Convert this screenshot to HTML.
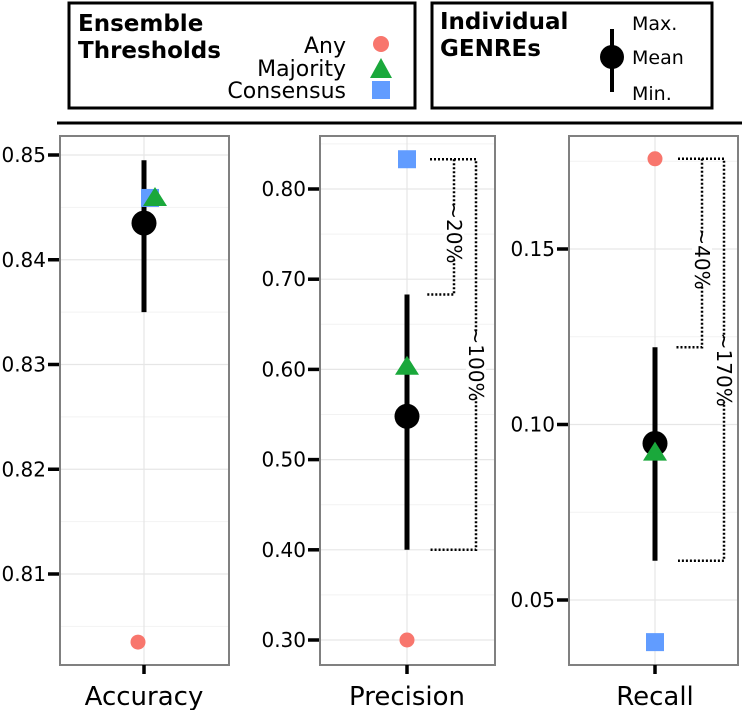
<!DOCTYPE html>
<html><head><meta charset="utf-8"><style>
html,body{margin:0;padding:0;background:#fff;}
svg{display:block;font-family:"DejaVu Sans","Liberation Sans",sans-serif;}
</style></head><body>
<svg id="chart" width="742" height="710" viewBox="0 0 742 710">
<g>
<rect x="69" y="3" width="346" height="105" fill="#fff" stroke="#000" stroke-width="3"/>
<text x="78" y="31" font-size="23" font-weight="bold">Ensemble</text>
<text x="78" y="58" font-size="23" font-weight="bold">Thresholds</text>
<text x="346" y="53" font-size="22" text-anchor="end">Any</text>
<text x="346" y="76" font-size="22" text-anchor="end">Majority</text>
<text x="346" y="98" font-size="22" text-anchor="end">Consensus</text>
<circle cx="381" cy="44" r="8" fill="#f8766d"/>
<polygon points="381,58 392,78 370,78" fill="#1aa83b"/>
<rect x="372" y="81" width="18" height="18" fill="#619cff"/>
</g>
<g>
<rect x="432" y="3" width="280" height="105" fill="#fff" stroke="#000" stroke-width="3"/>
<text x="440" y="29" font-size="23" font-weight="bold">Individual</text>
<text x="440" y="56" font-size="23" font-weight="bold">GENREs</text>
<line x1="612" y1="29" x2="612" y2="92" stroke="#000" stroke-width="4"/>
<circle cx="612" cy="57" r="12" fill="#000"/>
<text x="632" y="30" font-size="19">Max.</text>
<text x="632" y="64" font-size="19">Mean</text>
<text x="632" y="100" font-size="19">Min.</text>
</g>
<line x1="57" y1="123" x2="742" y2="123" stroke="#000" stroke-width="3"/>
<g id="panels"></g>
</svg>
<script>
const metrics = ["Accuracy","Precision","Recall"];
const indMin = [0.835, 0.400, 0.0612];
const indMax = [0.8495, 0.683, 0.122];
const indMean = [0.8435, 0.548, 0.0946];
const anyVals = [0.8035, 0.300, 0.1757];
const majorityVals = [0.8459, 0.603, 0.092];
const consensusVals = [0.8459, 0.833, 0.038];
const ticksAcc = [0.81, 0.82, 0.83, 0.84, 0.85];
const ticksPrec = [0.30, 0.40, 0.50, 0.60, 0.70, 0.80];
const ticksRec = [0.05, 0.10, 0.15];
const tickLabelsAcc = ["0.81","0.82","0.83","0.84","0.85"];
const tickLabelsPrec = ["0.30","0.40","0.50","0.60","0.70","0.80"];
const tickLabelsRec = ["0.05","0.10","0.15"];
const bracketLabelsInner = [null, "~20%", "~40%"];
const bracketLabelsOuter = [null, "~100%", "~170%"];

const NS = "http://www.w3.org/2000/svg";
const panelsG = document.getElementById("panels");
function mk(tag, attrs, parent){const e=document.createElementNS(NS,tag);for(const k in attrs)e.setAttribute(k,attrs[k]);(parent||panelsG).appendChild(e);return e;}

const layout = [
 {x0:60,x1:229,cx:144,top:136,bottom:665,v0:0.85,p0:155,v1:0.81,p1:574},
 {x0:320,x1:495,cx:407,top:136,bottom:665,v0:0.80,p0:189,v1:0.30,p1:640},
 {x0:569,x1:738,cx:655,top:136,bottom:665,v0:0.15,p0:249,v1:0.05,p1:600}
];
const ticksAll=[ticksAcc,ticksPrec,ticksRec];
const tickLabelsAll=[tickLabelsAcc,tickLabelsPrec,tickLabelsRec];

metrics.forEach((m,i)=>{
  const L=layout[i];
  const y=v=>L.p0+(v-L.v0)*(L.p1-L.p0)/(L.v1-L.v0);
  const g=mk("g",{});
  
  
  mk("rect",{x:L.x0,y:L.top,width:L.x1-L.x0,height:L.bottom-L.top,fill:"#fff"},g);
  const ticks=ticksAll[i], step=ticks[1]-ticks[0];
  for(let k=-1;k<ticks.length;k++){
    const v=ticks[0]+(k+0.5)*step, yy=y(v);
    if(yy>L.top&&yy<L.bottom) mk("line",{x1:L.x0,x2:L.x1,y1:yy,y2:yy,stroke:"#f2f2f2","stroke-width":1},g);
  }
  ticks.forEach((t,k)=>{
    const yy=y(t);
    mk("line",{x1:L.x0,x2:L.x1,y1:yy,y2:yy,stroke:"#e6e6e6","stroke-width":1.2},g);
    mk("line",{x1:L.x0-12,x2:L.x0,y1:yy,y2:yy,stroke:"#000","stroke-width":3.5},g);
    const tx=mk("text",{x:L.x0-14,y:yy+7,"font-size":20,"text-anchor":"end"},g);
    tx.textContent=tickLabelsAll[i][k];
    
    
  });
  mk("line",{x1:L.cx,x2:L.cx,y1:L.top,y2:L.bottom,stroke:"#e6e6e6","stroke-width":1.2},g);
  mk("rect",{x:L.x0,y:L.top,width:L.x1-L.x0,height:L.bottom-L.top,fill:"none",stroke:"#808080","stroke-width":2},g);
  mk("line",{x1:L.cx,x2:L.cx,y1:L.bottom,y2:L.bottom+9,stroke:"#000","stroke-width":3.5},g);
  const xl=mk("text",{x:L.cx,y:705,"font-size":26,"text-anchor":"middle"},g);
  xl.textContent=m;
  
  

  if(bracketLabelsInner[i]){
    const yt=y(Math.max(consensusVals[i],anyVals[i]));
    const yi=y(indMax[i]), yo=y(indMin[i]);
    const xa=L.cx+23, xi=L.cx+47, xo=L.cx+69;
    const d={stroke:"#000","stroke-width":2.5,"stroke-dasharray":"2,2",fill:"none"};
    const b1=mk("polyline",Object.assign({points:`${xa},${yt} ${xo},${yt} ${xo},${yo} ${xa},${yo}`},d),g);
    
    
    const b2=mk("polyline",Object.assign({points:`${xi},${yt} ${xi},${yi} ${L.cx+20},${yi}`},d),g);
    
    
    const lab=(txt,x,yy,nm)=>{
      const w=txt.length*12+4;
      mk("rect",{x:x-10,y:yy-w/2,width:20,height:w,fill:"#fff"},g);
      const t=mk("text",{x:x,y:yy,"font-size":20,"text-anchor":"middle",transform:`rotate(90 ${x} ${yy})`,dy:7},g);
      t.textContent=txt;
      
      
    };
    lab(bracketLabelsInner[i],xi,(yt+yi)/2+6,'bracket-label-inner');
    lab(bracketLabelsOuter[i],xo,(yt+yo)/2+10,'bracket-label-outer');
  }
  const eb=mk("line",{x1:L.cx,x2:L.cx,y1:y(indMax[i]),y2:y(indMin[i]),stroke:"#000","stroke-width":5},g);
  
  
  const mc=mk("circle",{cx:L.cx,cy:y(indMean[i]),r:12.5,fill:"#000"},g);
  
  
  const dodge = i===0 ? [-6,6,11] : [0,0,0];
  const ac=mk("circle",{cx:L.cx+dodge[0],cy:y(anyVals[i]),r:7.5,fill:"#f8766d"},g);
  
  
  const cy=y(consensusVals[i]), cxq=L.cx+dodge[1];
  const sq=mk("rect",{x:cxq-9,y:cy-9,width:18,height:18,fill:"#619cff"},g);
  
  
  const my=y(majorityVals[i]), mx=L.cx+dodge[2];
  const tr=mk("polygon",{points:`${mx},${my-11} ${mx+12},${my+8} ${mx-12},${my+8}`,fill:"#1aa83b"},g);
  
  
});
</script>
</body></html>
